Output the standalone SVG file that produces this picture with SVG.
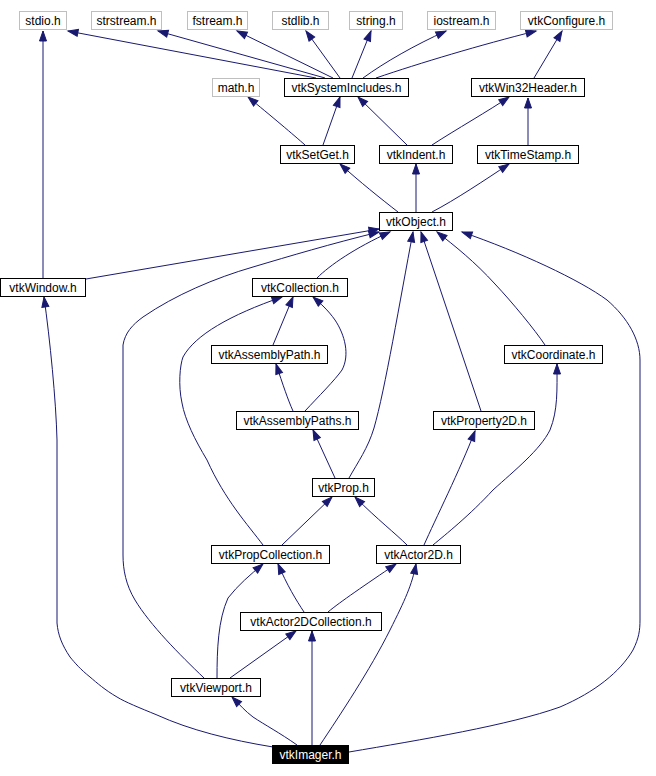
<svg xmlns="http://www.w3.org/2000/svg" width="656" height="776" viewBox="0 0 656 776">
<style>
.n rect{fill:#fff;stroke:#000;stroke-width:1}
.g rect{fill:#fff;stroke:#bfbfbf;stroke-width:1}
.b rect{fill:#000;stroke:#000;stroke-width:1}
text{font-family:"Liberation Sans",Arial,sans-serif;font-size:12px;text-anchor:middle;fill:#000}
.b text{fill:#fff}
#edges path{fill:none;stroke:#191970;stroke-width:1;marker-end:url(#a)}
</style>
<defs>
<marker id="a" markerWidth="10" markerHeight="7" refX="10" refY="3.5" orient="auto" markerUnits="userSpaceOnUse" overflow="visible">
<path d="M0,0 L10,3.5 L0,7 Z" fill="#191970" stroke="#191970" stroke-width="1"/>
</marker>
</defs>
<rect width="656" height="776" fill="#fff"/>
<g id="edges">
<path d="M316,78 L68,31"/>
<path d="M325,78 L158,31"/>
<path d="M333,78 L237,31"/>
<path d="M340,78 L306,31"/>
<path d="M352,78 L371,31"/>
<path d="M363,78 C385,62 415,45 446,31"/>
<path d="M376,78 C420,63 480,45 536,31"/>
<path d="M534,78 L562,31"/>
<path d="M305,145 C295,136 270,115 248,97"/>
<path d="M323,145 L340,97"/>
<path d="M407,145 L358,97"/>
<path d="M432,145 C455,130 490,110 509,97"/>
<path d="M528,145 L528,98"/>
<path d="M398,212 C380,198 360,182 340,164"/>
<path d="M416,212 L416,164"/>
<path d="M432,212 C455,200 485,180 509,164"/>
<path d="M43,278 L43,31"/>
<path d="M86,279 L379,229"/>
<path d="M204,678 C180,655 150,625 135,600 C126,585 123,570 123,555 L123,345 C125,333 132,325 143,317 C175,295 215,278 253,267 C290,256 330,244 379,232"/>
<path d="M317,278 C330,265 355,248 390,232"/>
<path d="M273,345 L293,297"/>
<path d="M305,411 C318,397 335,380 342,370 C350,355 345,335 335,320 C328,310 320,303 313,297"/>
<path d="M293,411 C288,400 283,385 276,364"/>
<path d="M545,345 C535,330 512,302 495,284 C475,262 455,246 437,232"/>
<path d="M481,411 L421,232"/>
<path d="M349,478 C358,462 368,448 374,428 C385,390 400,300 413,232"/>
<path d="M335,478 L313,430"/>
<path d="M263,545 C248,525 225,500 207,460 C195,440 185,420 182,403 C178,385 180,365 183,357 C195,335 230,315 282,297"/>
<path d="M282,545 L332,497"/>
<path d="M407,545 C395,533 378,520 355,497"/>
<path d="M424,545 C435,520 460,470 475,431"/>
<path d="M433,545 C445,535 470,515 493,490 C515,470 540,450 550,430 C558,410 557,390 557,364"/>
<path d="M304,612 C296,600 287,585 278,564"/>
<path d="M328,612 C340,602 365,585 396,564"/>
<path d="M217,678 C217,650 218,620 228,598 C238,585 250,575 263,564"/>
<path d="M230,678 L296,631"/>
<path d="M273,747 C230,740 190,730 157,715 C140,708 125,702 117,697 C105,690 97,683 90,677 C80,669 75,663 70,657 C62,645 58,635 57,623 L57,440 C56,400 50,340 44,297"/>
<path d="M297,745 C280,733 265,725 253,717 C245,711 240,705 232,697"/>
<path d="M312,745 L312,631"/>
<path d="M320,745 C340,715 370,670 390,630 C405,600 412,585 416,564"/>
<path d="M349,752 C420,740 510,725 560,707 C595,692 620,672 633,650 C639,638 640,630 640,620 L640,360 C640,340 628,318 607,300 C580,280 520,252 462,232"/>
</g>
<g id="stdio" class="g"><rect x="19.5" y="11.5" width="47" height="18"/><text x="43" y="25">stdio.h</text></g>
<g id="strstream" class="g"><rect x="91.5" y="11.5" width="70" height="18"/><text x="126.5" y="25">strstream.h</text></g>
<g id="fstream" class="g"><rect x="187.5" y="11.5" width="60" height="18"/><text x="217.5" y="25">fstream.h</text></g>
<g id="stdlib" class="g"><rect x="272.5" y="11.5" width="56" height="18"/><text x="300.5" y="25">stdlib.h</text></g>
<g id="string" class="g"><rect x="349.5" y="11.5" width="53" height="18"/><text x="376" y="25">string.h</text></g>
<g id="iostream" class="g"><rect x="427.5" y="11.5" width="68" height="18"/><text x="461.5" y="25">iostream.h</text></g>
<g id="vtkConfigure" class="g"><rect x="520.5" y="11.5" width="92" height="18"/><text x="566.5" y="25">vtkConfigure.h</text></g>
<g id="math" class="g"><rect x="212.5" y="78.5" width="47" height="18"/><text x="236" y="92">math.h</text></g>
<g id="vtkSystemIncludes" class="n"><rect x="284.5" y="78.5" width="124" height="18"/><text x="346.5" y="92">vtkSystemIncludes.h</text></g>
<g id="vtkWin32Header" class="n"><rect x="471.5" y="78.5" width="113" height="18"/><text x="528" y="92">vtkWin32Header.h</text></g>
<g id="vtkSetGet" class="n"><rect x="280.5" y="145.5" width="74" height="18"/><text x="317.5" y="159">vtkSetGet.h</text></g>
<g id="vtkIndent" class="n"><rect x="379.5" y="145.5" width="73" height="18"/><text x="416" y="159">vtkIndent.h</text></g>
<g id="vtkTimeStamp" class="n"><rect x="477.5" y="145.5" width="101" height="18"/><text x="528" y="159">vtkTimeStamp.h</text></g>
<g id="vtkObject" class="n"><rect x="379.5" y="212.5" width="73" height="18"/><text x="416" y="226">vtkObject.h</text></g>
<g id="vtkWindow" class="n"><rect x="0.5" y="278.5" width="85" height="18"/><text x="43" y="292">vtkWindow.h</text></g>
<g id="vtkCollection" class="n"><rect x="252.5" y="278.5" width="95" height="18"/><text x="300" y="292">vtkCollection.h</text></g>
<g id="vtkAssemblyPath" class="n"><rect x="211.5" y="345.5" width="116" height="18"/><text x="269.5" y="359">vtkAssemblyPath.h</text></g>
<g id="vtkCoordinate" class="n"><rect x="504.5" y="345.5" width="98" height="18"/><text x="553.5" y="359">vtkCoordinate.h</text></g>
<g id="vtkAssemblyPaths" class="n"><rect x="236.5" y="411.5" width="122" height="18"/><text x="297.5" y="425">vtkAssemblyPaths.h</text></g>
<g id="vtkProperty2D" class="n"><rect x="433.5" y="411.5" width="101" height="18"/><text x="484" y="425">vtkProperty2D.h</text></g>
<g id="vtkProp" class="n"><rect x="312.5" y="478.5" width="62" height="18"/><text x="343.5" y="492">vtkProp.h</text></g>
<g id="vtkPropCollection" class="n"><rect x="211.5" y="545.5" width="118" height="18"/><text x="270.5" y="559">vtkPropCollection.h</text></g>
<g id="vtkActor2D" class="n"><rect x="376.5" y="545.5" width="84" height="18"/><text x="418.5" y="559">vtkActor2D.h</text></g>
<g id="vtkActor2DCollection" class="n"><rect x="240.5" y="612.5" width="141" height="18"/><text x="311" y="626">vtkActor2DCollection.h</text></g>
<g id="vtkViewport" class="n"><rect x="171.5" y="678.5" width="89" height="18"/><text x="216" y="692">vtkViewport.h</text></g>
<g id="vtkImager" class="b"><rect x="272.5" y="745.5" width="76" height="18"/><text x="310.5" y="759">vtkImager.h</text></g>
</svg>
